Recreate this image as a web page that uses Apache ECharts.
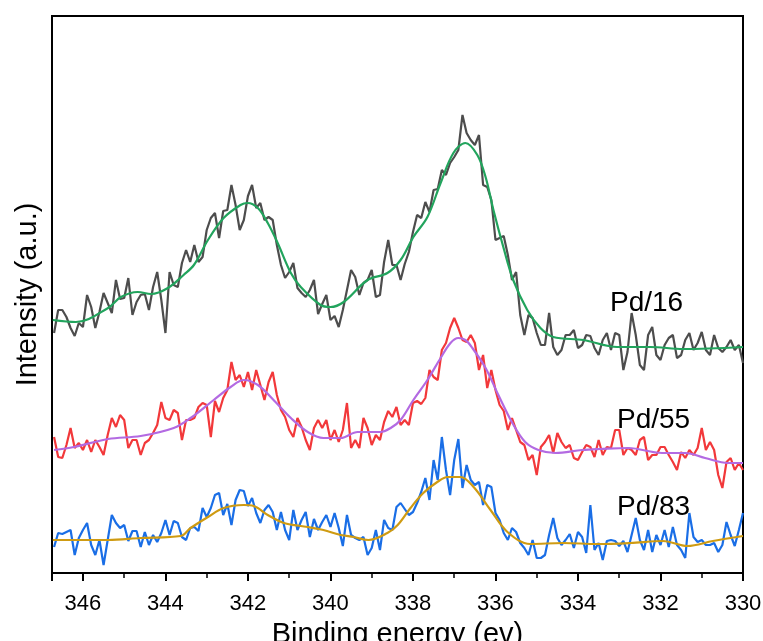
<!DOCTYPE html>
<html>
<head>
<meta charset="utf-8">
<script src="https://cdn.jsdelivr.net/npm/echarts@6/dist/echarts.min.js"></script>
<style>
html,body{margin:0;padding:0;background:#fff;}
#chart{width:763px;height:641px;}
</style>
</head>
<body>
<div id="chart"></div>
<script>
// Binding energy grid (eV), 0.1 eV step from 346.7 to 330.0
const energyStart = 346.7;
const energyStep = 0.1;
const xTicks = [346, 344, 342, 340, 338, 336, 334, 332, 330];
const seriesNames = ['Pd/16', 'Pd/55', 'Pd/83'];

// Raw spectra (arbitrary intensity units)
const raw16 = [240,263,263,256,245,237,250,246,278,266, 245,261,280,270,260,293,274,275,295,258,
  271,278,279,263,286,301,273,240,301,288, 286,310,323,311,328,311,316,343,355,360,
  335,362,363,388,368,343,353,377,388,365, 370,353,356,353,328,308,295,301,310,285,
  280,276,283,293,259,269,278,253,257,246, 263,283,303,296,278,290,293,303,276,278,
  311,333,308,308,293,309,321,341,358,355, 371,361,383,384,403,398,410,416,423,458,
  440,433,428,438,388,386,373,333,335,337, 318,293,301,258,238,258,255,240,228,228,
  260,226,218,223,238,238,243,225,228,238, 237,225,218,233,240,223,240,238,203,221,
  260,238,208,203,238,246,218,213,228,235, 238,215,218,233,240,223,230,241,223,218,
  238,225,221,226,233,223,228,210];
const raw55 = [136,116,115,128,145,125,130,123,133,121, 133,126,118,138,155,146,158,153,125,133,
  133,118,130,133,140,148,171,155,153,163, 160,133,153,153,155,166,170,168,136,172,
  161,175,183,211,193,198,186,201,183,203, 188,173,191,201,178,163,156,143,136,155,
  146,133,123,145,153,145,153,133,143,131, 143,170,125,133,125,155,145,128,138,133,
  151,162,156,166,148,153,148,170,172,169, 175,203,196,193,223,230,245,255,245,233,
  231,238,230,203,218,185,203,183,168,162, 143,155,143,131,128,113,118,98,126,131,
  138,120,140,131,125,128,115,113,121,128, 126,116,133,118,126,125,143,143,118,125,
  123,118,133,136,113,118,118,126,126,118, 111,103,121,115,123,118,125,145,123,131,
  123,98,85,111,115,103,110,103];
const raw83 = [26,40,39,41,43,18,35,43,50,28, 18,33,8,33,58,50,45,48,32,42,
  42,26,41,28,38,31,40,53,38,52, 50,36,33,45,46,42,65,56,65,78,
  80,58,69,48,73,83,82,67,75,60, 50,63,68,61,43,61,43,33,63,43,
  53,61,36,54,43,51,58,46,60,45, 27,58,38,35,33,36,18,25,43,23,
  53,45,43,66,70,64,58,61,70,81, 95,73,113,93,136,103,78,113,134,85,
  108,93,88,91,68,88,86,60,53,40, 33,45,41,30,25,18,33,15,15,18,
  38,55,35,28,33,39,25,41,36,20, 68,23,30,13,32,33,32,27,32,21,
  38,55,33,23,43,21,38,28,43,26, 46,28,23,15,60,36,31,33,28,28,
  30,21,28,51,38,27,43,60];

// Fitted envelopes
const fit16E = [346.73,346.17,345.39,345.08,344.67,344.35,343.94,343.56,343.31,342.97,342.59,342.18,342.01,341.76,341.52,341.28,340.96,340.72,340.24,340.00,339.68,339.10,338.62,338.30,337.99,337.65,337.33,337.02,336.73,336.44,336.24,336.05,335.81,335.57,335.23,334.91,334.60,333.87,333.05,332.25,331.45,330.00];
const fit16Y = [253,251,265,276,281,279,285,298,308,333,355,368,370,365,350,330,300,286,268,266,271,293,300,313,336,356,390,420,430,418,396,363,326,293,263,245,236,233,226,226,224,226];
const fit55E = [346.70,346.22,345.39,344.60,343.80,343.39,342.83,342.42,342.10,341.76,341.38,340.96,340.55,340.17,339.75,339.34,338.79,338.54,338.30,337.99,337.65,337.33,337.09,336.90,336.73,336.56,336.24,335.93,335.59,335.28,334.96,334.55,333.90,333.46,332.78,331.96,331.40,330.92,330.36,330.00];
const fit55Y = [123,126,134,137,145,155,173,186,193,188,173,155,141,135,135,141,141,145,153,173,193,215,230,235,233,225,205,178,150,131,123,120,123,124,125,120,120,115,110,110];
const fit83E = [346.73,345.39,344.60,343.63,343.39,342.97,342.59,342.10,341.86,341.52,341.13,340.55,340.17,339.75,339.44,339.08,338.62,338.37,338.06,337.75,337.41,337.16,336.85,336.53,336.12,335.71,335.16,334.36,333.53,332.73,331.94,331.35,330.73,330.00];
const fit83Y = [33,33,35,37,45,56,65,68,67,58,50,46,43,38,36,33,40,48,65,80,91,96,96,86,63,41,29,30,29,30,32,27,32,37];

const energies = raw16.map((_, i) => +(energyStart - energyStep * i).toFixed(2));
const pair = (xs, ys) => ys.map((y, i) => [xs[i], y]);

const FONT = 'Liberation Sans, Arial, sans-serif';
const chart = echarts.init(document.getElementById('chart'), null, {renderer: 'canvas'});

function rawSeries(name, data, color) {
  return {name: name + ' raw', type: 'line', data: pair(energies, data), showSymbol: false,
    lineStyle: {color: color, width: 2.2}, itemStyle: {color: color}, z: 2, animation: false};
}
function fitSeries(name, xs, ys, color) {
  return {name: name + ' fit', type: 'line', data: pair(xs, ys), showSymbol: false, smooth: 0.35,
    lineStyle: {color: color, width: 2.2}, itemStyle: {color: color}, z: 3, animation: false};
}

chart.setOption({
  animation: false,
  backgroundColor: '#fff',
  grid: {left: 52, right: 20, top: 16, bottom: 68, containLabel: false, outerBoundsMode: 'none',
    show: true, borderColor: '#000', borderWidth: 2, backgroundColor: 'transparent'},
  xAxis: {
    type: 'value', min: 330, max: 346.75, interval: 2, inverse: true,
    name: 'Binding energy (ev)', nameLocation: 'middle', nameGap: 47,
    nameTextStyle: {fontFamily: FONT, fontSize: 29, color: '#000'},
    axisLine: {show: true, lineStyle: {color: '#000', width: 2}},
    axisTick: {show: true, length: 8, lineStyle: {color: '#000', width: 2}},
    minorTick: {show: true, splitNumber: 2, length: 5, lineStyle: {color: '#000', width: 1.5}},
    splitLine: {show: false},
    axisLabel: {fontFamily: FONT, fontSize: 22, color: '#000', margin: 20,
      formatter: v => (xTicks.indexOf(Math.round(v * 100) / 100) >= 0 ? String(v) : '')}
  },
  yAxis: {
    type: 'value', min: 0, max: 557,
    name: 'Intensity (a.u.)', nameLocation: 'middle', nameGap: 10,
    nameTextStyle: {fontFamily: FONT, fontSize: 29, color: '#000'},
    axisLine: {show: true, lineStyle: {color: '#000', width: 2}},
    axisTick: {show: false}, axisLabel: {show: false}, splitLine: {show: false}
  },
  graphic: [
    {type: 'text', x: 610, y: 303, style: {text: seriesNames[0], font: '28px ' + FONT, fill: '#000', verticalAlign: 'middle'}, z: 10},
    {type: 'text', x: 617, y: 420, style: {text: seriesNames[1], font: '28px ' + FONT, fill: '#000', verticalAlign: 'middle'}, z: 10},
    {type: 'text', x: 617, y: 507, style: {text: seriesNames[2], font: '28px ' + FONT, fill: '#000', verticalAlign: 'middle'}, z: 10}
  ],
  series: [
    rawSeries(seriesNames[0], raw16, '#4d4d4d'),
    rawSeries(seriesNames[1], raw55, '#f2383a'),
    rawSeries(seriesNames[2], raw83, '#1a6ee6'),
    fitSeries(seriesNames[0], fit16E, fit16Y, '#22a45d'),
    fitSeries(seriesNames[1], fit55E, fit55Y, '#b36ae2'),
    fitSeries(seriesNames[2], fit83E, fit83Y, '#cf9b12')
  ]
});
</script>
</body>
</html>
